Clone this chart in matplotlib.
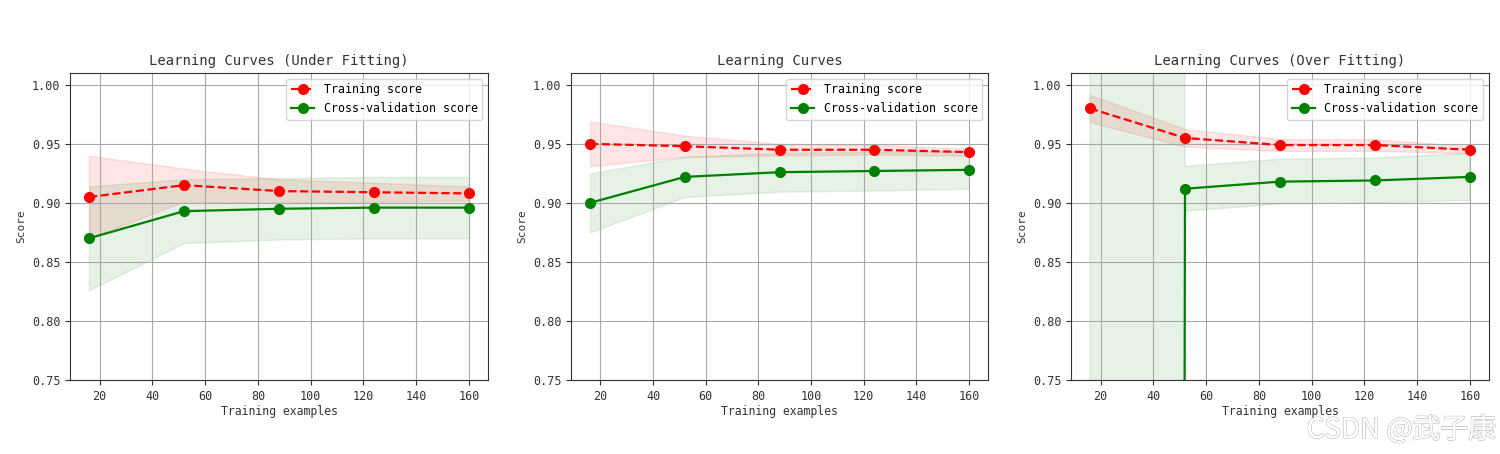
import matplotlib
matplotlib.use("Agg")
import matplotlib.pyplot as plt
import matplotlib.patheffects as pe
import numpy as np

# training set sizes (same for all three panels)
train_sizes = np.array([16, 52, 88, 124, 160])

titles = ["Learning Curves (Under Fitting)", "Learning Curves", "Learning Curves (Over Fitting)"]

# mean / std of scores
train_mean = [
    [0.905, 0.915, 0.910, 0.909, 0.908],
    [0.950, 0.948, 0.945, 0.945, 0.943],
    [0.980, 0.955, 0.949, 0.949, 0.945],
]
train_std = [
    [0.035, 0.014, 0.010, 0.008, 0.006],
    [0.019, 0.009, 0.005, 0.004, 0.003],
    [0.0115, 0.0075, 0.005, 0.005, 0.003],
]
test_mean = [
    [0.870, 0.893, 0.895, 0.896, 0.896],
    [0.900, 0.922, 0.926, 0.927, 0.928],
    [-40.0, 0.912, 0.918, 0.919, 0.922],
]
test_std = [
    [0.044, 0.027, 0.026, 0.026, 0.026],
    [0.025, 0.017, 0.0165, 0.0165, 0.016],
    [100.0, 0.019, 0.019, 0.019, 0.020],
]

plt.rcParams['font.family'] = ['DejaVu Sans Mono']

fig = plt.figure(figsize=(15, 4.54), dpi=100)
W, H = 1500, 454
lefts = [70, 571, 1071]
rights = [488, 988, 1489]
top, bottom = 73, 380

for i in range(3):
    ax = fig.add_axes([lefts[i] / W, 1 - bottom / H, (rights[i] - lefts[i]) / W, (bottom - top) / H])
    tm = np.array(train_mean[i])
    ts = np.array(train_std[i])
    vm = np.array(test_mean[i])
    vs = np.array(test_std[i])
    ax.grid(True, color='#a8a8a8')
    ax.fill_between(train_sizes, tm - ts, tm + ts, alpha=0.1, color='r')
    ax.fill_between(train_sizes, vm - vs, vm + vs, alpha=0.1, color='g')
    ax.plot(train_sizes, tm, 'o--', color='r', markersize=7, linewidth=1.6, label='Training score')
    ax.plot(train_sizes, vm, 'o-', color='g', markersize=7, linewidth=1.6, label='Cross-validation score')
    ax.set_xlim(8.8, 167.2)
    ax.set_ylim(0.75, 1.01)
    ax.set_xticks([20, 40, 60, 80, 100, 120, 140, 160])
    ax.set_yticks([0.75, 0.80, 0.85, 0.90, 0.95, 1.00])
    ax.tick_params(labelsize=8.5, colors='#333333')
    ax.set_title(titles[i], fontsize=10, color='#333333')
    ax.set_xlabel('Training examples', fontsize=8.3, labelpad=2, color='#333333')
    ax.set_ylabel('Score', fontsize=8, color='#333333')
    for s in ax.spines.values():
        s.set_color('#333333')
    ax.legend(loc='upper right', fontsize=8.4)

# watermark (outlined grey text)
wm = fig.text(0.997, 0.02, 'CSDN @武子康', ha='right', va='bottom', fontsize=20, color='white',
              family=['Noto Sans CJK SC', 'DejaVu Sans'])
wm.set_path_effects([pe.withStroke(linewidth=0.8, foreground='#a8a8a8'), pe.Normal()])

fig.savefig('out.png', dpi=100)
